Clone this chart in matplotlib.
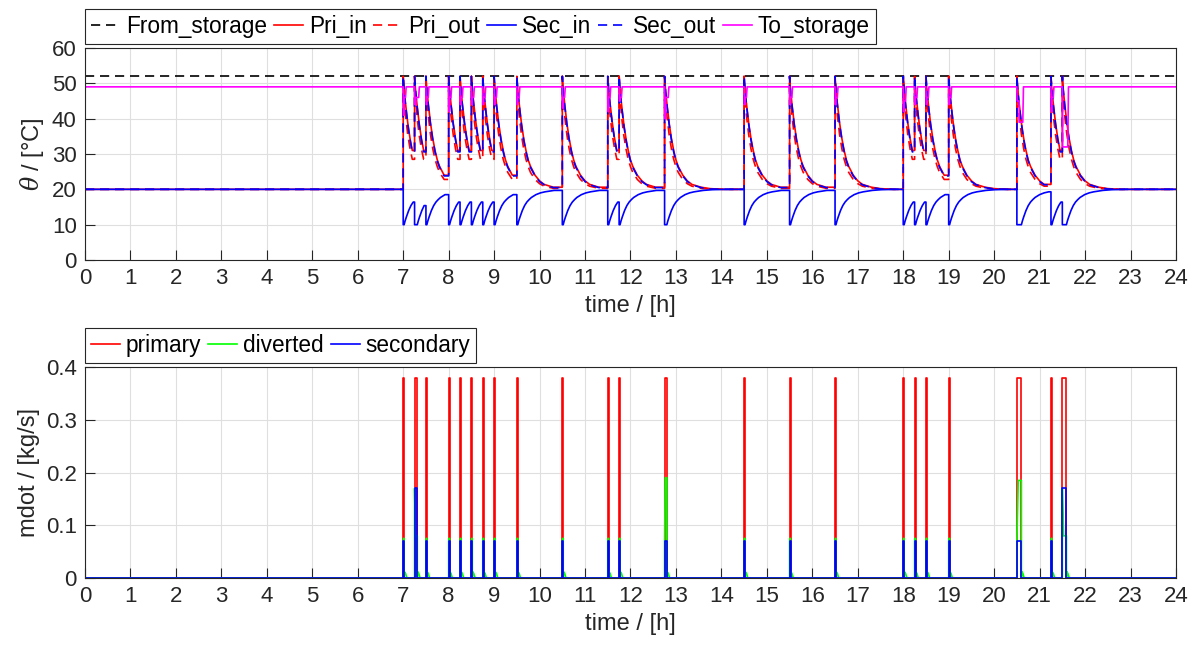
import numpy as np
from matplotlib import pyplot as plt

# %% datos (tiempos en horas)

draw_start = [7.0, 7.25, 7.5, 8.0, 8.25, 8.5, 8.75, 9.0, 9.5, 10.5,
              11.5, 11.75, 12.75, 14.5, 15.5, 16.5, 18.0, 18.25, 18.5, 19.0,
              20.5, 21.25, 21.5]
draw_len = [0.02, 0.06, 0.02, 0.02, 0.02, 0.02, 0.02, 0.02, 0.02, 0.02,
            0.02, 0.02, 0.05, 0.02, 0.02, 0.02, 0.02, 0.02, 0.02, 0.02,
            0.10, 0.02, 0.09]

# caudales [kg/s]
flow_pri = [0.38] * len(draw_start)
flow_sec = [0.07, 0.17, 0.07, 0.07, 0.07, 0.07, 0.07, 0.07, 0.07, 0.07,
            0.07, 0.07, 0.07, 0.07, 0.07, 0.07, 0.07, 0.07, 0.07, 0.07,
            0.07, 0.07, 0.17]
flow_div = [0.075, 0.08, 0.075, 0.075, 0.075, 0.075, 0.075, 0.075, 0.075, 0.075,
            0.075, 0.075, 0.19, 0.075, 0.075, 0.075, 0.075, 0.075, 0.075, 0.075,
            0.185, 0.075, 0.08]
div_tail_t = [0.0, 0.005, 0.03, 0.06]
div_tail_v = [0.0, 0.012, 0.009, 0.0]

# temperaturas [°C]
T_storage = 52.0
T_return = 49.0
T_base = 20.0

# forma de las curvas despues de cada extraccion
prof_t = [0, 0.02, 0.05, 0.1, 0.15, 0.2, 0.25, 0.3, 0.4, 0.5, 0.6, 0.8, 1.0, 1.3]
sec_out_prof = [52, 48.0, 44.0, 38.4, 34.0, 30.6, 28.0, 26.2, 23.8, 22.2, 21.3, 20.5, 20.1, 20.0]
pri_in_prof = [52, 48.3, 44.4, 38.8, 34.4, 31.0, 28.3, 26.5, 24.0, 22.4, 21.4, 20.6, 20.2, 20.0]
pri_out_prof = [52, 46.5, 41.0, 35.5, 31.5, 28.5, 26.4, 24.8, 22.8, 21.6, 20.9, 20.3, 20.1, 20.0]
sec_in_prof = [10, 11.0, 12.2, 14.0, 15.4, 16.4, 17.1, 17.7, 18.5, 19.0, 19.3, 19.7, 19.9, 20.0]

# caidas de To_storage en cada extraccion
ts_dip1 = [41, 44, 44, 42, 44, 44, 44, 44, 44, 43,
           42, 45, 40, 44, 44, 44, 42, 44, 44, 44,
           45, 42, 32]
ts_dip2 = [46, 46, 46, 46, 46, 46, 46, 46, 46, 46,
           46, 46, 46, 46, 46, 46, 45, 46, 46, 46,
           39, 46, 32]


# %% armado de las series

def temp_series(prof_v, after_draw=False):
    t = [0.0]
    v = [T_base]
    for i, t0 in enumerate(draw_start):
        t_next = draw_start[i + 1] if i + 1 < len(draw_start) else 24.0
        t.append(t0)
        v.append(v[-1])
        t_ref = t0 + draw_len[i] if after_draw else t0
        if after_draw:
            t.append(t0)
            v.append(prof_v[0])
        for dt, val in zip(prof_t, prof_v):
            if t_ref + dt < t_next:
                t.append(t_ref + dt)
                v.append(val)
    t.append(24.0)
    v.append(v[-1])
    return t, v


def return_series():
    t = [0.0]
    v = [T_return]
    for t0, d, a, b in zip(draw_start, draw_len, ts_dip1, ts_dip2):
        half = max(d / 2, 0.02)
        t += [t0, t0 + 0.005, t0 + half, t0 + half, t0 + d + 0.03, t0 + d + 0.045]
        v += [T_return, a, a, b, b, T_return]
    t.append(24.0)
    v.append(T_return)
    return t, v


def pulse_series(levels):
    t = [0.0]
    v = [0.0]
    for t0, d, q in zip(draw_start, draw_len, levels):
        t += [t0, t0, t0 + d, t0 + d]
        v += [0.0, q, q, 0.0]
    t.append(24.0)
    v.append(0.0)
    return t, v


def div_series():
    t = [0.0]
    v = [0.0]
    for t0, d, qs, qd in zip(draw_start, draw_len, flow_sec, flow_div):
        t += [t0, t0, t0 + 0.3 * d, t0 + d]
        v += [0.0, qs, qd, qd]
        for dt, val in zip(div_tail_t, div_tail_v):
            t.append(t0 + d + dt)
            v.append(val)
    t.append(24.0)
    v.append(0.0)
    return t, v


t_pin, v_pin = temp_series(pri_in_prof)
t_pout, v_pout = temp_series(pri_out_prof)
t_sin, v_sin = temp_series(sec_in_prof, after_draw=True)
t_sout, v_sout = temp_series(sec_out_prof)
t_ts, v_ts = return_series()

t_qp, v_qp = pulse_series(flow_pri)
t_qs, v_qs = pulse_series(flow_sec)
t_qd, v_qd = div_series()

# %% grafico

plt.rcParams['font.family'] = ['Liberation Sans', 'DejaVu Sans']
plt.rcParams['mathtext.fontset'] = 'dejavuserif'
txt_col = '#262626'
lw = 1.2
dash = (5.5, 3.5)
magenta = '#ff00ff'

fig = plt.figure(figsize=(11.99, 6.52), dpi=100)
ax1 = fig.add_axes([0.0709, 0.6012, 0.9099, 0.3252])
ax2 = fig.add_axes([0.0709, 0.1135, 0.9099, 0.3236])

ax1.plot([0, 24], [T_storage, T_storage], color='k', ls='--', dashes=dash, lw=lw, label='From_storage')
ax1.plot(t_pin, v_pin, color='r', lw=lw, label='Pri_in')
ax1.plot(t_pout, v_pout, color='r', ls='--', dashes=dash, lw=lw, label='Pri_out')
ax1.plot(t_sin, v_sin, color='b', lw=lw, label='Sec_in')
ax1.plot(t_sout, v_sout, color='b', ls='--', dashes=dash, lw=lw, label='Sec_out')
ax1.plot(t_ts, v_ts, color=magenta, lw=lw, label='To_storage')
ax1.set_ylim(0, 60)
ax1.set_yticks(np.arange(0, 61, 10))
ax1.set_ylabel(r'$\theta$ / [°C]', fontsize=17, color=txt_col)

ax2.plot(t_qp, v_qp, color='r', lw=lw, label='primary')
ax2.plot(t_qd, v_qd, color='#00ff00', lw=lw, label='diverted')
ax2.plot(t_qs, v_qs, color='b', lw=lw, label='secondary')
ax2.set_ylim(0, 0.4)
ax2.set_yticks([0, 0.1, 0.2, 0.3, 0.4])
ax2.set_yticklabels(['0', '0.1', '0.2', '0.3', '0.4'])
ax2.set_ylabel('mdot / [kg/s]', fontsize=17, color=txt_col)

for ax, ncol in [(ax1, 6), (ax2, 3)]:
    ax.set_xlim(0, 24)
    ax.set_xticks(range(25))
    ax.set_xlabel('time / [h]', fontsize=17, color=txt_col)
    ax.grid(True, color='#dfdfdf', lw=0.8)
    ax.set_axisbelow(True)
    ax.tick_params(direction='in', length=7, width=0.8, colors=txt_col,
                   labelsize=16, pad=6)
    for s in ax.spines.values():
        s.set_color(txt_col)
        s.set_linewidth(0.8)
    leg = ax.legend(loc='lower left', bbox_to_anchor=(0, 1.02), ncol=ncol,
                    fontsize=16.3, frameon=True, fancybox=False, framealpha=1,
                    borderaxespad=0, handlelength=1.3, handletextpad=0.25,
                    columnspacing=0.3, borderpad=0.25)
    leg.get_frame().set_edgecolor(txt_col)
    leg.get_frame().set_linewidth(0.8)

fig.savefig('out.png', dpi=100)
